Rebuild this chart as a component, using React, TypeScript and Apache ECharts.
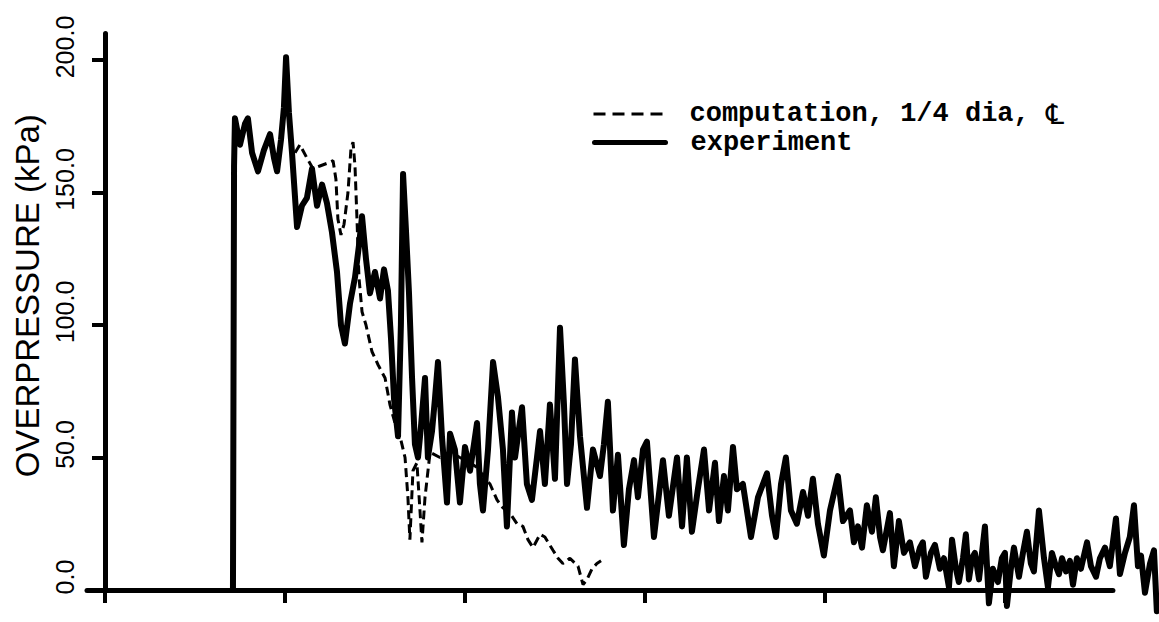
import React, { useEffect, useRef } from 'react';
import * as echarts from 'echarts';

// x in arbitrary time units (axis ticks every 10), y in kPa
const expX = [7.11, 7.17, 7.22, 7.5, 7.78, 7.94, 8.17, 8.5, 8.83, 9.17, 9.39, 9.56, 9.78, 9.94, 10.06, 10.22, 10.39, 10.67, 10.94, 11.22, 11.5, 11.78, 12.06, 12.33, 12.61, 12.89, 13.11, 13.33, 13.61, 13.89, 14.11, 14.28, 14.5, 14.72, 15.0, 15.28, 15.5, 15.72, 15.89, 16.06, 16.28, 16.44, 16.56, 16.72, 16.89, 17.06, 17.22, 17.39, 17.56, 17.78, 17.94, 18.17, 18.33, 18.5, 18.72, 19.0, 19.17, 19.44, 19.72, 20.0, 20.28, 20.5, 20.67, 20.83, 21.0, 21.28, 21.56, 21.83, 22.11, 22.33, 22.61, 22.78, 22.94, 23.17, 23.44, 23.72, 24.0, 24.17, 24.44, 24.72, 25.0, 25.28, 25.5, 25.67, 25.89, 26.11, 26.39, 26.78, 27.11, 27.5, 27.72, 27.94, 28.22, 28.5, 28.83, 29.11, 29.39, 29.61, 29.89, 30.11, 30.5, 31.0, 31.33, 31.78, 32.06, 32.33, 32.61, 32.94, 33.28, 33.56, 33.89, 34.11, 34.39, 34.61, 34.89, 35.11, 35.44, 35.89, 36.28, 36.78, 37.06, 37.28, 37.56, 37.83, 38.11, 38.44, 38.78, 39.06, 39.33, 39.61, 39.94, 40.28, 40.72, 41.0, 41.39, 41.61, 41.83, 42.06, 42.33, 42.61, 42.83, 43.06, 43.22, 43.61, 43.83, 44.11, 44.39, 44.72, 45.0, 45.28, 45.44, 45.61, 45.89, 46.11, 46.39, 46.61, 46.89, 47.06, 47.28, 47.44, 47.67, 47.83, 48.0, 48.17, 48.33, 48.56, 48.89, 49.11, 49.33, 49.61, 49.83, 50.0, 50.11, 50.33, 50.5, 50.78, 51.0, 51.22, 51.44, 51.61, 51.89, 52.17, 52.39, 52.61, 52.83, 53.0, 53.17, 53.39, 53.61, 53.78, 54.0, 54.22, 54.56, 54.78, 55.06, 55.28, 55.56, 55.83, 56.17, 56.39, 56.67, 56.94, 57.17, 57.39, 57.56, 57.78, 58.06, 58.28, 58.44];
const expY = [0, 160, 178, 168, 176, 178, 165, 158, 166, 172, 163, 158, 170, 182, 201, 180, 165, 137, 145, 148, 159, 145, 153, 146, 135, 120, 100, 93, 108, 118, 130, 141, 125, 112, 120, 110, 121, 113, 95, 72, 58, 100, 157, 136, 112, 80, 55, 50, 62, 80, 50, 60, 72, 86, 58, 33, 59, 53, 33, 54, 45, 55, 63, 40, 30, 53, 86, 73, 53, 24, 67, 50, 58, 69, 40, 34, 50, 60, 40, 70, 42, 99, 70, 40, 55, 87, 58, 31, 53, 43, 55, 71, 30, 51, 17, 38, 49, 35, 53, 56, 20, 49, 28, 50, 24, 50, 22, 38, 53, 30, 48, 26, 43, 30, 54, 38, 40, 20, 35, 44, 28, 20, 40, 50, 30, 25, 37, 28, 42, 25, 13, 30, 43, 26, 30, 18, 24, 16, 32, 22, 35, 20, 15, 29, 9, 26, 14, 18, 9, 16, 18, 5, 14, 17, 8, 12, 1, 19, 8, 3, 12, 21, 4, 12, 14, 4, 24, -5, 8, 3, 12, 14, -6, 8, 16, 5, 14, 22, 10, 7, 30, 12, 1, 14, 9, 6, 12, 7, 11, 2, 12, 8, 18, 9, 5, 12, 16, 9, 27, 6, 14, 20, 32, 9, 13, -1, 10, 15, -8];

const compX = [10.56, 10.83, 11.22, 11.56, 11.94, 12.33, 12.67, 12.83, 12.94, 13.11, 13.28, 13.5, 13.67, 13.78, 13.89, 14.0, 14.11, 14.28, 14.5, 14.83, 15.17, 15.56, 15.83, 16.11, 16.39, 16.67, 16.83, 16.94, 17.11, 17.33, 17.5, 17.61, 17.78, 18.06, 18.61, 19.17, 19.72, 20.28, 20.72, 21.11, 21.39, 21.78, 22.11, 22.5, 22.89, 23.22, 23.5, 23.78, 24.17, 24.44, 24.89, 25.17, 25.44, 25.83, 26.28, 26.56, 26.78, 27.06, 27.33, 27.56];
const compY = [165, 168, 163, 159, 160, 161, 162, 155, 140, 134, 138, 150, 167, 169, 160, 140, 118, 105, 100, 90, 85, 80, 70, 63, 58, 50, 35, 19, 45, 48, 30, 18, 35, 52, 50, 52, 50, 48, 46, 42, 40, 34, 31, 29, 25, 24, 19, 16, 21, 20, 15, 12, 10, 12, 9, 2, 4, 8, 10, 11];

const xTicks = [0, 10, 20, 30, 40, 50];
const yTicks = [0, 50, 100, 150, 200];
const xAxisSpan = [-1, 56];
const COMP = 'computation, 1/4 dia, \u2104';
const EXP = 'experiment';
const Y_NAME = 'OVERPRESSURE (kPa)';

export default function App() {
  const ref = useRef<HTMLDivElement>(null);
  useEffect(() => {
    const chart = echarts.init(ref.current as HTMLDivElement, null, { renderer: 'svg' });
    const legendText = {
      fontFamily: 'Liberation Mono',
      fontWeight: 'bold',
      fontSize: 27,
      lineHeight: 22,
      color: '#000',
      padding: [0, 0, 0, 20],
      rich: {
        cl: { fontFamily: 'DejaVu Sans', fontSize: 28, fontWeight: 'normal', lineHeight: 22, color: '#000' },
      },
    };
    const legendCommon = {
      left: 592,
      padding: 0,
      itemWidth: 71,
      itemHeight: 14,
      selectedMode: false,
      itemStyle: { opacity: 0 },
      textStyle: legendText,
      formatter: (n: string) => (n === COMP ? 'computation, 1/4 dia, {cl|\u2104}' : n),
    };
    chart.setOption({
      animation: false,
      backgroundColor: '#fff',
      grid: { left: 87, right: 0, top: 33.5, bottom: 32, containLabel: false, outerBoundsMode: 'none' },
      xAxis: {
        type: 'value',
        min: xAxisSpan[0],
        max: 58.56,
        axisLine: { show: false, onZero: true },
        axisTick: { show: true, customValues: xTicks, length: 13, inside: false, lineStyle: { color: '#000', width: 4 } },
        axisLabel: { show: false },
        splitLine: { show: false },
      },
      yAxis: {
        type: 'value',
        min: 0,
        max: 210,
        name: Y_NAME,
        nameLocation: 'middle',
        nameGap: 25,
        nameTextStyle: { fontFamily: 'Liberation Sans', fontSize: 33, color: '#000', padding: [0, 0, 0, 32] },
        axisLine: { onZero: true, lineStyle: { color: '#000', width: 5, cap: 'round' } },
        axisTick: { show: true, customValues: yTicks, length: 13, lineStyle: { color: '#000', width: 4 } },
        axisLabel: {
          customValues: yTicks,
          rotate: 90,
          margin: 10,
          formatter: (v: number) => v.toFixed(1),
          fontFamily: 'Liberation Sans',
          fontSize: 25,
          color: '#000',
          padding: [0, 0, 0, 26],
        },
        splitLine: { show: false },
      },
      legend: [
        { ...legendCommon, data: [{ name: COMP }], top: 100, lineStyle: { width: 3, type: [12, 7] } },
        { ...legendCommon, data: [{ name: EXP }], top: 129, lineStyle: { width: 5 } },
      ],
      series: [
        {
          name: EXP,
          type: 'line',
          data: expX.map((x, i) => [x, expY[i]]),
          symbol: 'none',
          clip: false,
          color: '#000',
          lineStyle: { color: '#000', width: 6, join: 'round', cap: 'round' },
          markLine: {
            silent: true,
            symbol: ['none', 'none'],
            label: { show: false },
            lineStyle: { color: '#000', width: 5, type: 'solid', cap: 'round' },
            data: [[{ coord: [xAxisSpan[0], 0] }, { coord: [xAxisSpan[1], 0] }]],
          },
        },
        {
          name: COMP,
          type: 'line',
          data: compX.map((x, i) => [x, compY[i]]),
          symbol: 'none',
          clip: false,
          color: '#000',
          lineStyle: { color: '#000', width: 3, type: [9, 5] },
        },
      ],
    });
    return () => chart.dispose();
  }, []);
  return <div ref={ref} style={{ position: 'fixed', left: 0, top: 0, width: 1159, height: 622, background: '#fff' }} />;
}
